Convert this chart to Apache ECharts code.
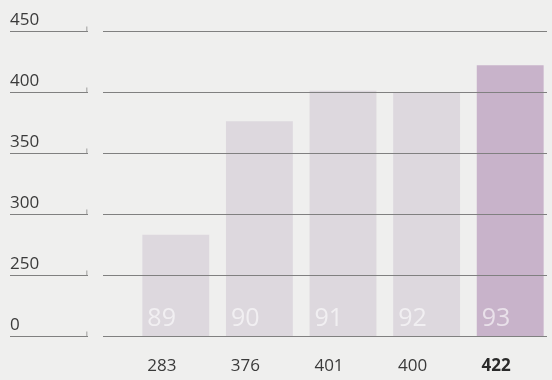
<!DOCTYPE html>
<html>
<head>
<meta charset="utf-8">
<script src="https://cdn.jsdelivr.net/npm/echarts@6/dist/echarts.min.js"></script>
<style>
  html, body { margin: 0; padding: 0; background: #efefee; }
  #chart { width: 552px; height: 380px; }
</style>
</head>
<body>
<div id="chart"></div>
<script>
// years shown inside bars, values shown under them
const years = ['89', '90', '91', '92', '93'];
const values = [283, 376, 401, 400, 422];
const barColors = ['#ddd8de', '#ddd8de', '#ddd8de', '#ddd8de', '#c8b3ca'];
// broken axis: bottom line is labelled 0, then 250..450
const axisMin = 200;
const axisMax = 450;
const axisStep = 50;
const tickValues = [200, 250, 300, 350, 400, 450];

const chart = echarts.init(document.getElementById('chart'));

const yBase = {
  type: 'value',
  min: axisMin,
  max: axisMax,
  interval: axisStep,
  axisLine: { show: false },
  axisTick: { show: false }
};

chart.setOption({
  backgroundColor: '#efefee',
  animation: false,
  textStyle: { fontFamily: 'Open Sans' },
  grid: [
    { left: 10, width: 78, top: 31, bottom: 44 },   // short lines with labels
    { left: 134, width: 421, top: 31, bottom: 44 }, // bars
    { left: 103, right: 5, top: 31, bottom: 44 }    // long grid lines
  ],
  xAxis: [
    { gridIndex: 0, type: 'value', min: 0, max: 1, show: false },
    {
      gridIndex: 1,
      type: 'category',
      data: years,
      axisLine: { show: false },
      axisTick: { show: false },
      axisLabel: {
        margin: 22,
        fontSize: 17,
        color: '#3a3a3a',
        padding: [0, 28, 0, 0],
        formatter: (v, i) => i === values.length - 1 ? '{b|' + values[i] + '}' : String(values[i]),
        rich: { b: { fontWeight: 'bold', fontSize: 17, color: '#2a2a2a' } }
      }
    },
    { gridIndex: 2, type: 'value', show: false }
  ],
  yAxis: [
    Object.assign({}, yBase, {
      gridIndex: 0,
      z: 3,
      splitLine: { lineStyle: { color: '#808080', width: 1 } },
      axisLabel: {
        inside: true,
        margin: 0,
        fontSize: 17,
        color: '#3a3a3a',
        verticalAlign: 'bottom',
        lineHeight: 22,
        formatter: v => v === axisMin ? '0' : String(v)
      }
    }),
    Object.assign({}, yBase, {
      gridIndex: 1,
      splitLine: { show: false },
      axisLabel: { show: false }
    }),
    Object.assign({}, yBase, {
      gridIndex: 2,
      z: 3,
      splitLine: { lineStyle: { color: '#808080', width: 1 } },
      axisLabel: { show: false }
    })
  ],
  series: [
    {
      type: 'bar',
      xAxisIndex: 1,
      yAxisIndex: 1,
      barCategoryGap: '20%',
      data: values.map((v, i) => ({ value: v, itemStyle: { color: barColors[i] } })),
      label: {
        show: true,
        position: 'insideBottomLeft',
        distance: 5,
        formatter: '{b}',
        fontSize: 25,
        color: 'rgba(255,255,255,0.6)'
      }
    },
    {
      // small upturned end of each short label line
      type: 'scatter',
      xAxisIndex: 0,
      yAxisIndex: 0,
      silent: true,
      z: 4,
      symbol: 'rect',
      symbolSize: [1, 5],
      symbolOffset: [0, -2],
      itemStyle: { color: '#8a8a8a' },
      data: tickValues.map(t => [0.985, t])
    }
  ]
});
</script>
</body>
</html>
